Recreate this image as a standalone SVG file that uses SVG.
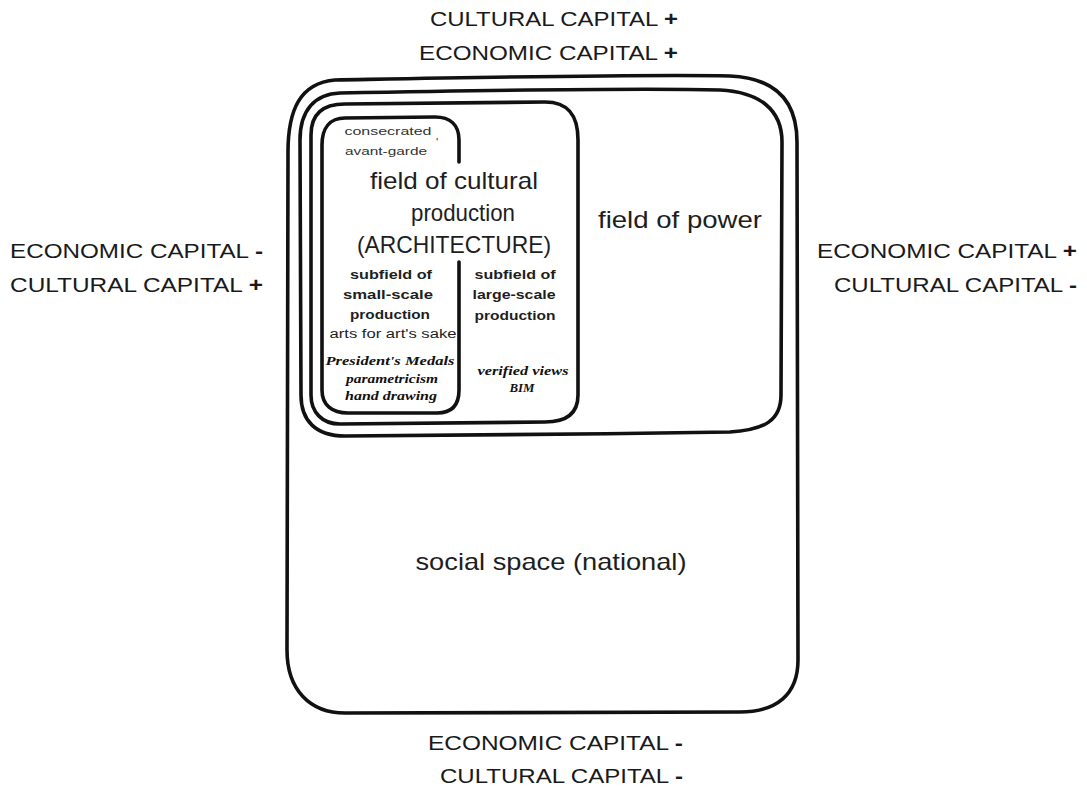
<svg xmlns="http://www.w3.org/2000/svg" width="1087" height="791" viewBox="0 0 1087 791">
  <style>
    .bg { fill: #ffffff; }
    .outline { fill: none; stroke: #111; stroke-width: 3.6; stroke-linecap: round; stroke-linejoin: round; }
    .axis { font-family: "Liberation Sans", Arial, sans-serif; font-size: 21px; fill: #1a1a1a; }
    .sign { font-weight: bold; }
    .title { font-family: "Liberation Sans", Arial, sans-serif; font-size: 24px; fill: #1e1e1e; }
    .thin { font-family: "Liberation Sans", Arial, sans-serif; font-size: 11.5px; fill: #333; }
    .sub { font-family: "Liberation Sans", Arial, sans-serif; font-size: 13px; font-weight: bold; fill: #1e1e1e; }
    .reg { font-family: "Liberation Sans", Arial, sans-serif; font-size: 12.5px; fill: #1e1e1e; }
    .ex { font-family: "Liberation Serif", "Times New Roman", serif; font-size: 12px; font-weight: bold; font-style: italic; fill: #111; }
  </style>
  <rect class="bg" x="0" y="0" width="1087" height="791"/>

  <!-- axis labels around the social space -->
  <g id="axis-top">
    <text class="axis" x="554" y="26" text-anchor="middle" textLength="248" lengthAdjust="spacingAndGlyphs">CULTURAL CAPITAL <tspan class="sign">+</tspan></text>
    <text class="axis" x="548.5" y="60" text-anchor="middle" textLength="259" lengthAdjust="spacingAndGlyphs">ECONOMIC CAPITAL <tspan class="sign">+</tspan></text>
  </g>
  <g id="axis-left">
    <text class="axis" x="136.5" y="258" text-anchor="middle" textLength="253" lengthAdjust="spacingAndGlyphs">ECONOMIC CAPITAL <tspan class="sign">-</tspan></text>
    <text class="axis" x="136.5" y="292" text-anchor="middle" textLength="253" lengthAdjust="spacingAndGlyphs">CULTURAL CAPITAL <tspan class="sign">+</tspan></text>
  </g>
  <g id="axis-right">
    <text class="axis" x="947" y="258" text-anchor="middle" textLength="260" lengthAdjust="spacingAndGlyphs">ECONOMIC CAPITAL <tspan class="sign">+</tspan></text>
    <text class="axis" x="955.5" y="292" text-anchor="middle" textLength="243" lengthAdjust="spacingAndGlyphs">CULTURAL CAPITAL <tspan class="sign">-</tspan></text>
  </g>
  <g id="axis-bottom">
    <text class="axis" x="555.5" y="750" text-anchor="middle" textLength="255" lengthAdjust="spacingAndGlyphs">ECONOMIC CAPITAL <tspan class="sign">-</tspan></text>
    <text class="axis" x="561.5" y="783" text-anchor="middle" textLength="243" lengthAdjust="spacingAndGlyphs">CULTURAL CAPITAL <tspan class="sign">-</tspan></text>
  </g>

  <!-- social space (national) -->
  <g id="social-space">
    <path class="outline" d="M 335,80 C 500,77 650,74 730,76 C 775,78 797,100 797,142 L 798,660 C 798,695 776,712 740,712 L 345,713 C 310,713 287,690 287,650 L 288,152 C 288,110 300,83 335,80 Z"/>
    <text class="title" x="551" y="570" text-anchor="middle" textLength="271" lengthAdjust="spacingAndGlyphs">social space (national)</text>
  </g>

  <!-- field of power -->
  <g id="field-of-power">
    <path class="outline" d="M 340,93 C 500,90 650,88 720,90 C 760,92 782,110 782,142 L 781,395 C 781,420 765,430 730,432 C 600,434 450,436 345,436 C 315,436 301,420 301,395 L 300,140 C 300,110 315,94 340,93 Z"/>
    <text class="title" x="680" y="228" text-anchor="middle" textLength="164" lengthAdjust="spacingAndGlyphs">field of power</text>
  </g>

  <!-- field of cultural production -->
  <g id="field-of-cultural-production">
    <path class="outline" d="M 345,104 L 545,102 C 568,102 578,115 578,140 L 578,395 C 578,415 565,422 545,422 L 340,424 C 322,424 311,412 311,395 L 311,135 C 311,115 322,104 345,104 Z"/>
    <text class="title" x="454" y="189" text-anchor="middle" textLength="168" lengthAdjust="spacingAndGlyphs">field of cultural</text>
    <text class="title" x="463" y="221" text-anchor="middle" textLength="104" lengthAdjust="spacingAndGlyphs">production</text>
    <text class="title" x="454" y="253" text-anchor="middle" textLength="194" lengthAdjust="spacingAndGlyphs">(ARCHITECTURE)</text>
  </g>

  <!-- subfield of small-scale production -->
  <g id="subfield-small-scale">
    <path class="outline" d="M 459,162 L 459,140 C 459,125 450,117 435,117 L 345,118 C 330,118 322,128 322,145 L 322,390 C 322,405 332,413 348,413 L 437,413 C 452,413 459,405 459,390 L 459,262"/>
    <text class="thin" x="388" y="135" text-anchor="middle" textLength="87" lengthAdjust="spacingAndGlyphs">consecrated</text>
    <text class="thin" x="386" y="155" text-anchor="middle" textLength="82" lengthAdjust="spacingAndGlyphs">avant-garde</text>
    <text class="thin" x="436" y="146" font-size="8px">'</text>
    <text class="sub" x="391" y="279" text-anchor="middle" textLength="82" lengthAdjust="spacingAndGlyphs">subfield of</text>
    <text class="sub" x="388" y="299" text-anchor="middle" textLength="90" lengthAdjust="spacingAndGlyphs">small-scale</text>
    <text class="sub" x="390" y="319" text-anchor="middle" textLength="80" lengthAdjust="spacingAndGlyphs">production</text>
    <text class="reg" x="393" y="338" text-anchor="middle" textLength="127" lengthAdjust="spacingAndGlyphs">arts for art's sake</text>
    <text class="ex" x="390" y="365" text-anchor="middle" textLength="129" lengthAdjust="spacingAndGlyphs">President's Medals</text>
    <text class="ex" x="392" y="383" text-anchor="middle" textLength="92" lengthAdjust="spacingAndGlyphs">parametricism</text>
    <text class="ex" x="391" y="400" text-anchor="middle" textLength="92" lengthAdjust="spacingAndGlyphs">hand drawing</text>
  </g>

  <!-- subfield of large-scale production -->
  <g id="subfield-large-scale">
    <text class="sub" x="515" y="279" text-anchor="middle" textLength="81" lengthAdjust="spacingAndGlyphs">subfield of</text>
    <text class="sub" x="514" y="299" text-anchor="middle" textLength="83" lengthAdjust="spacingAndGlyphs">large-scale</text>
    <text class="sub" x="515" y="320" text-anchor="middle" textLength="81" lengthAdjust="spacingAndGlyphs">production</text>
    <text class="ex" x="523" y="375" text-anchor="middle" textLength="91" lengthAdjust="spacingAndGlyphs">verified views</text>
    <text class="ex" x="522" y="392" text-anchor="middle" textLength="25" lengthAdjust="spacingAndGlyphs">BIM</text>
  </g>

  <!-- the fields are nested; no connectors -->
  <g id="connectors"/>
</svg>
